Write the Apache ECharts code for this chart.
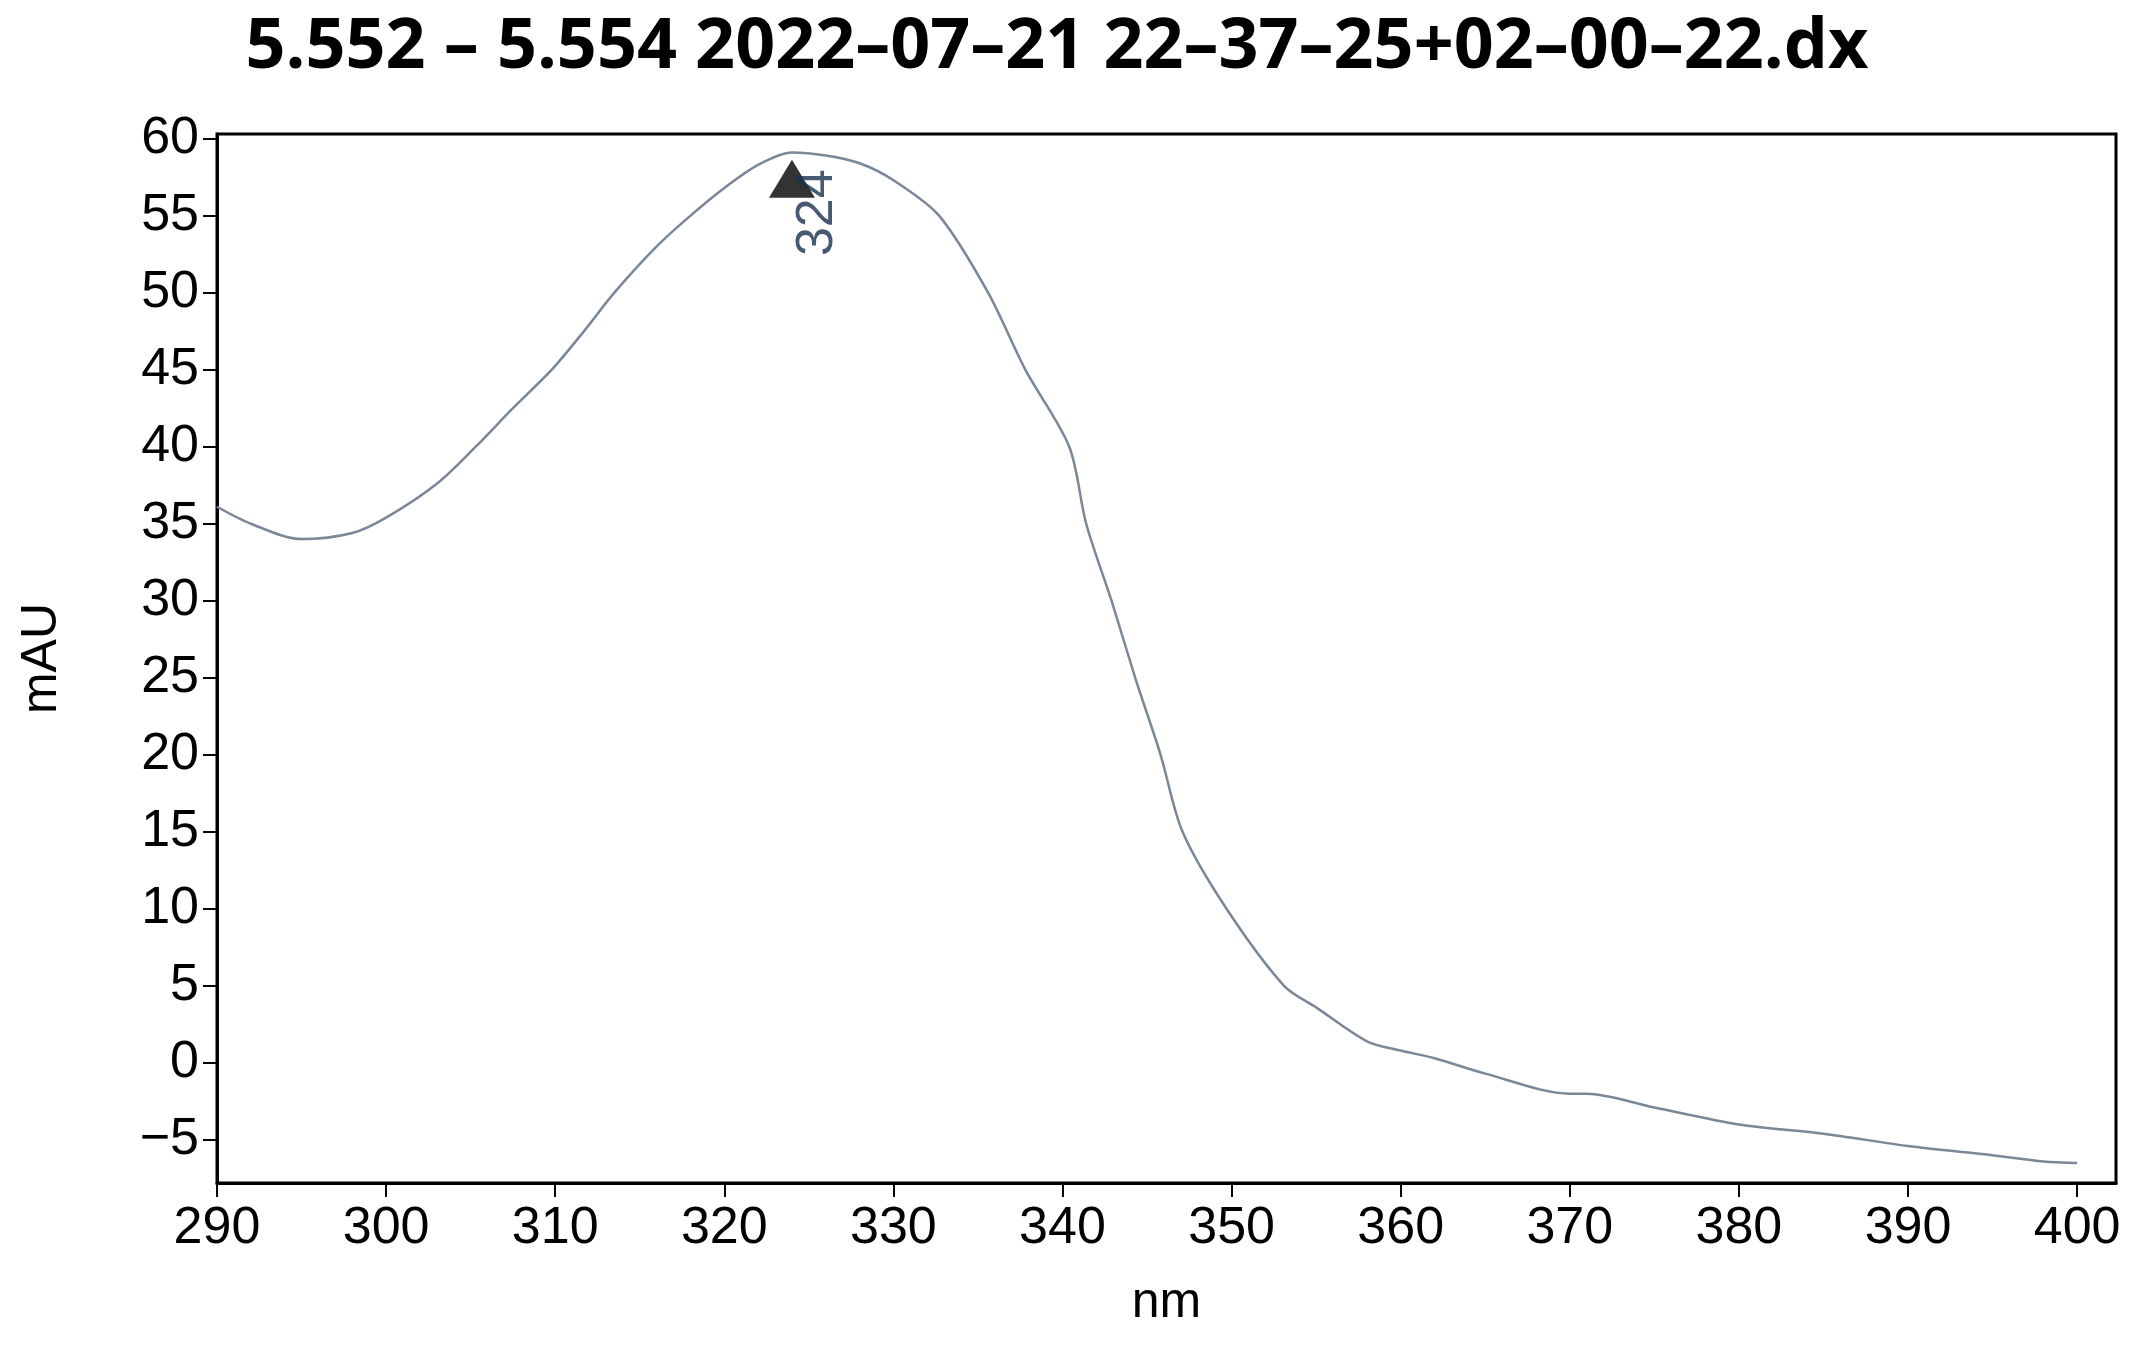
<!DOCTYPE html><html><head><meta charset="utf-8">
<script src="https://cdn.jsdelivr.net/npm/echarts@6/dist/echarts.min.js"></script>
<style>html,body{margin:0;background:#fff}#c{width:2155px;height:1356px}</style></head><body><div id="c"></div><script>
const wavelengths=[290,292,295,298,300,303,305.3,307.5,309.8,311.7,313.5,316,318,320,322,324,326,328,330,332.7,335.6,337.8,340.4,341.4,342.9,344.3,345.8,347.1,349.7,353.1,355,358,360,362,365,370,371,375,380,385,390,395,398,400];
const absorbance=[36.1,35.0,34.0,34.4,35.4,37.6,40.0,42.5,45.0,47.5,50.0,53.0,55.0,56.8,58.3,59.1,58.9,58.4,57.3,55.0,50.0,45.0,40.0,35.0,30.0,25.0,20.0,15.0,10.0,5.0,3.6,1.4,0.8,0.3,-0.7,-2.0,-2.0,-2.9,-4.0,-4.6,-5.4,-6.0,-6.4,-6.5];
const peakX=324, peakY=57.4, peakLabel='324';
const yTicks=[-5,0,5,10,15,20,25,30,35,40,45,50,55,60];
const titleText='5.552 – 5.554 2022–07–21 22–37–25+02–00–22.dx';
const c=echarts.init(document.getElementById('c'));
c.setOption({
 animation:false,
 title:{text:titleText,left:1052,top:8,textAlign:'center',textStyle:{fontFamily:'Open Sans',fontWeight:'bold',fontSize:70,color:'#000'}},
 grid:{left:217,right:39,top:134,bottom:173,show:true,borderColor:'#000',borderWidth:3,backgroundColor:'transparent'},
 xAxis:{type:'value',min:290,max:402.3,interval:10,name:'nm',nameLocation:'middle',nameGap:95,
  nameTextStyle:{fontFamily:'Liberation Sans',fontSize:50,color:'#000'},
  axisLine:{show:true,onZero:false,lineStyle:{color:'#000',width:3}},axisTick:{show:true,length:14,lineStyle:{color:'#000',width:2}},
  splitLine:{show:false},axisLabel:{fontFamily:'Liberation Sans',fontSize:52,color:'#000',margin:20,showMaxLabel:false,
   formatter:v=>v>400?'':String(v)}},
 yAxis:{type:'value',min:-7.8,max:60.3,name:'mAU',nameLocation:'middle',nameGap:150,
  nameTextStyle:{fontFamily:'Liberation Sans',fontSize:50,color:'#000'},
  axisLine:{show:true,lineStyle:{color:'#000',width:3}},
  axisTick:{show:true,length:14,customValues:yTicks,lineStyle:{color:'#000',width:2}},
  splitLine:{show:false},
  axisLabel:{fontFamily:'Liberation Sans',fontSize:52,color:'#000',margin:18,
   customValues:yTicks,formatter:v=>v<0?'−'+(-v):String(v)}},
 series:[
  {type:'line',data:wavelengths.map((x,i)=>[x,absorbance[i]]),smooth:0.3,showSymbol:false,
   lineStyle:{color:'#7a8796',width:2.5}},
  {type:'scatter',data:[[peakX,peakY]],symbol:'triangle',symbolSize:[46,38],itemStyle:{color:'#000'},
   label:{show:true,formatter:peakLabel,rotate:90,position:'bottom',distance:60,offset:[45,0],
    fontFamily:'Liberation Sans',fontSize:52,color:'#1a3050'}}
 ]});
</script></body></html>
